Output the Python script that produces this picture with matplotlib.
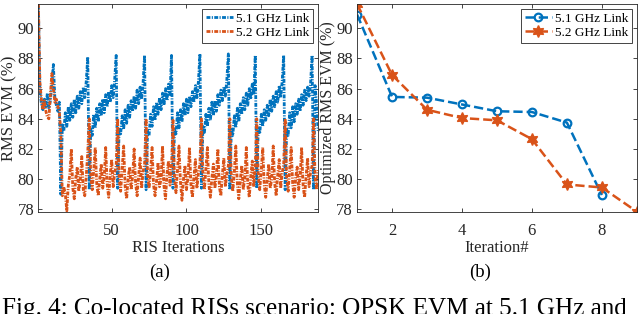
import matplotlib
matplotlib.use('Agg')
import matplotlib.pyplot as plt
import numpy as np

plt.rcParams['font.family'] = ['Liberation Serif', 'DejaVu Serif']

# ---- (a) RMS EVM over RIS iterations ----
evm_51_iter = [
    # start-up
    91.5, 85.9, 85.0, 84.6, 85.3, 84.8, 85.7, 84.7, 85.2, 86.4, 87.6, 85.4, 84.9, 84.5, 85.1,
    # 16..34
    79.0, 83.6, 83.2, 84.4, 83.5, 84.8, 83.9, 85.0, 84.1, 85.3, 84.4, 85.5, 84.7, 85.8, 85.0, 86.1, 85.4, 86.5, 88.1,
    # 35..53
    79.3, 83.3, 82.9, 84.3, 83.4, 84.7, 83.8, 85.0, 84.2, 85.3, 84.4, 85.6, 84.8, 85.8, 85.1, 86.2, 85.4, 86.6, 88.2,
    # 54..72
    79.4, 83.4, 83.0, 84.2, 83.3, 84.6, 83.7, 84.9, 84.1, 85.2, 84.5, 85.5, 84.7, 85.9, 85.0, 86.1, 85.3, 86.4, 88.2,
    # 73..90
    79.3, 83.2, 82.9, 84.3, 83.5, 84.8, 83.9, 85.1, 84.3, 85.4, 84.6, 85.7, 84.9, 86.0, 85.2, 86.3, 85.6, 88.2,
    # 91..109
    79.4, 83.3, 83.0, 84.4, 83.4, 84.6, 83.8, 85.0, 84.2, 85.3, 84.4, 85.5, 84.8, 85.8, 85.1, 86.2, 85.4, 86.5, 88.3,
    # 110..128
    79.4, 83.5, 83.1, 84.3, 83.5, 84.7, 83.9, 85.1, 84.2, 85.2, 84.5, 85.6, 84.9, 85.9, 85.2, 86.1, 85.5, 86.6, 88.3,
    # 129..146
    79.3, 83.3, 82.9, 84.2, 83.4, 84.7, 83.8, 85.0, 84.3, 85.4, 84.6, 85.7, 84.9, 86.0, 85.3, 86.3, 85.6, 88.2,
    # 147..165
    79.4, 83.4, 83.0, 84.3, 83.5, 84.6, 83.9, 84.9, 84.2, 85.3, 84.5, 85.5, 84.8, 85.8, 85.1, 86.2, 85.4, 86.5, 88.2,
    # 166..184
    79.3, 83.3, 82.9, 84.4, 83.4, 84.8, 83.8, 85.0, 84.3, 85.3, 84.5, 85.6, 84.9, 85.9, 85.2, 86.1, 85.5, 86.4, 88.2,
    # 185..188
    79.3, 86.2, 85.0, 83.2,
]

evm_52_iter = [
    91.6, 86.4, 85.3, 84.6, 85.2, 84.5, 84.1, 84.0, 85.6, 87.0, 86.0, 85.1, 85.3, 84.8, 84.5,
    83.0, 78.9, 79.5, 79.0, 77.9, 79.6, 80.3, 82.0, 79.4, 78.7, 80.1, 80.8, 79.2, 79.9, 81.5, 79.3, 78.9, 80.2, 81.8,
    84.0, 80.2, 79.3, 80.6, 82.1, 79.7, 78.9, 80.0, 81.0, 79.4, 80.1, 82.1, 79.6, 78.8, 80.3, 81.3, 79.5, 80.4, 80.9,
    84.0, 80.0, 79.2, 80.7, 82.2, 79.5, 78.7, 80.1, 80.8, 79.3, 80.2, 82.0, 79.7, 78.9, 80.2, 81.4, 79.4, 80.5, 81.0,
    84.0, 80.3, 79.4, 80.5, 82.1, 79.6, 78.9, 79.9, 81.1, 79.5, 80.0, 82.2, 79.5, 78.7, 80.4, 81.2, 79.6, 80.8,
    83.9, 80.1, 79.1, 80.6, 82.2, 79.8, 78.6, 80.0, 80.9, 79.3, 80.1, 82.1, 79.6, 78.8, 80.2, 81.3, 79.4, 80.4, 81.0,
    84.0, 80.2, 79.3, 80.7, 82.1, 79.6, 78.8, 80.1, 81.0, 79.4, 80.2, 82.0, 79.5, 78.9, 80.3, 81.4, 79.5, 80.3, 80.9,
    84.0, 80.1, 79.2, 80.5, 82.2, 79.7, 78.7, 80.0, 80.9, 79.3, 80.1, 82.1, 79.6, 78.8, 80.2, 81.2, 79.5, 80.9,
    84.0, 80.2, 79.3, 80.6, 82.1, 79.6, 78.8, 80.0, 81.0, 79.4, 80.0, 82.2, 79.7, 78.9, 80.3, 81.3, 79.4, 80.4, 81.0,
    84.0, 80.0, 79.2, 80.7, 82.1, 79.7, 78.8, 80.1, 80.8, 79.3, 80.2, 82.1, 79.5, 78.8, 80.2, 81.4, 79.5, 80.5, 80.9,
    84.0, 80.1, 79.3, 80.6,
]

# ---- (b) optimized EVM per iteration ----
opt_iter_51 = [1, 2, 3, 4, 5, 6, 7, 8]
opt_evm_51 = [90.9, 85.45, 85.4, 84.95, 84.5, 84.45, 83.75, 78.95]
opt_iter_52 = [1, 2, 3, 4, 5, 6, 7, 8, 9]
opt_evm_52 = [91.6, 86.9, 84.6, 84.05, 83.9, 82.65, 79.65, 79.45, 77.85]

labels = ['5.1 GHz Link', '5.2 GHz Link']
blue = '#0072BD'
orange = '#D95319'
ink = '#262626'

fig = plt.figure(figsize=(6.4, 3.14), dpi=100)
ax1 = fig.add_axes([0.060, 0.326, 0.437, 0.661])
ax2 = fig.add_axes([0.558, 0.326, 0.437, 0.661])

x_iter = np.arange(1, len(evm_51_iter) + 1)
dashdot = (0, (1.4, 0.5, 0.4, 0.5))
ax1.plot(x_iter, evm_51_iter, linestyle=dashdot, color=blue, lw=2.0, label=labels[0])
ax1.plot(x_iter, evm_52_iter, linestyle=dashdot, color=orange, lw=2.0, label=labels[1])
ax1.set_xlim(1, len(evm_51_iter))
ax1.set_xticks([50, 100, 150])
ax1.set_xlabel('RIS Iterations', fontsize=12, color=ink, labelpad=1)
ax1.set_ylabel('RMS EVM (%)', fontsize=12, color=ink, labelpad=0)

ax2.plot(opt_iter_51, opt_evm_51, '--', color=blue, lw=1.8, marker='o',
         ms=5.5, mfc='none', mew=1.6, label=labels[0])
ax2.plot(opt_iter_52, opt_evm_52, '--', color=orange, lw=1.8, marker=(6, 1, 0),
         ms=8.5, mfc=orange, mec=orange, label=labels[1])
ax2.set_xlim(1, 9)
ax2.set_xticks([2, 4, 6, 8])
ax2.set_xlabel('Iteration#', fontsize=12, color=ink, labelpad=1)
ax2.set_ylabel('Optimized RMS EVM (%)', fontsize=11.5, color=ink, labelpad=0)

for ax in (ax1, ax2):
    ax.set_ylim(77.85, 91.6)
    ax.set_yticks([78, 80, 82, 84, 86, 88, 90])
    ax.tick_params(direction='in', top=True, right=True, length=3, width=0.6,
                   labelsize=12, colors=ink)
    ax.tick_params(axis='x', pad=8)
    ax.tick_params(axis='y', pad=3)
    for s in ax.spines.values():
        s.set_color(ink)
        s.set_linewidth(0.6)
    leg = ax.legend(loc='upper right', fontsize=9.5, handlelength=2.1,
                    handletextpad=0.2, borderpad=0.3, labelspacing=0.15,
                    fancybox=False, framealpha=1, borderaxespad=0.35)
    leg.get_frame().set_edgecolor(ink)
    leg.get_frame().set_linewidth(0.6)

fig.text(0.25, 1 - 272 / 314, '(a)', ha='center', va='center', fontsize=13.5, color='black')
fig.text(0.75, 1 - 272 / 314, '(b)', ha='center', va='center', fontsize=13.5, color='black')
fig.text(0.003, 1 - 298 / 314, 'Fig. 4: Co-located RISs scenario: QPSK EVM at 5.1 GHz and',
         ha='left', va='top', fontsize=18.1, color='black')

fig.savefig('out.png', dpi=100)
